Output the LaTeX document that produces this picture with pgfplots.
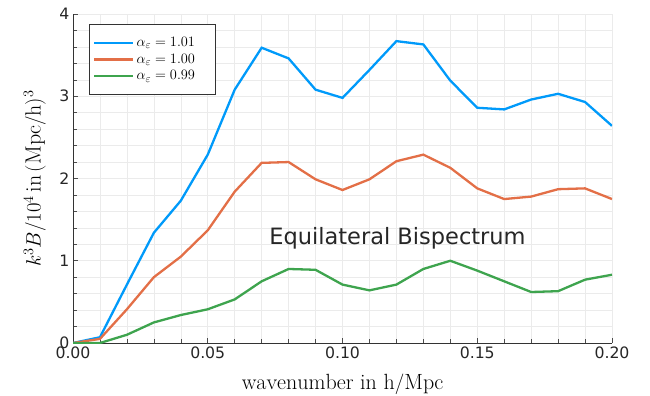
\documentclass[border=0pt]{standalone}
\usepackage{fontspec}
\usepackage{pgfplots}
\pgfplotsset{compat=1.18}
\newfontfamily\dejavu{DejaVu Sans}
\definecolor{c1}{HTML}{009AFA}
\definecolor{c2}{HTML}{E36F47}
\definecolor{c3}{HTML}{3EA44E}
\begin{document}
\begin{tikzpicture}
\begin{axis}[
  scale only axis, width=539bp, height=329bp,
  xmin=0, xmax=0.2, ymin=0, ymax=4,
  axis lines*=left,
  axis line style={black!80, line width=0.8bp},
  tick align=inside,
  major tick length=5bp, minor tick length=4bp,
  tick style={black!70, line width=0.6bp},
  xtick={0,0.05,0.1,0.15,0.2}, minor x tick num=4,
  ytick={0,1,2,3,4}, minor y tick num=4,
  grid=both,
  major grid style={black!8, line width=0.6bp},
  minor grid style={black!8, line width=0.6bp},
  /pgf/number format/assume math mode=true,
  tick label style={font=\dejavu\fontsize{15.7bp}{18bp}\selectfont, black!85},
  x tick label style={/pgf/number format/fixed, /pgf/number format/fixed zerofill, /pgf/number format/precision=2},
  y tick label style={/pgf/number format/fixed, /pgf/number format/precision=0},
  xlabel={$\mathrm{wavenumber\ in\ h/Mpc}$},
  ylabel={$k^3B/10^4\,\mathrm{in}\,(\mathrm{Mpc/h})^3$},
  label style={font=\fontsize{22bp}{26bp}\selectfont},
  x label style={at={(axis description cs:0.5,0)}, anchor=center, yshift=-41.5bp},
  y label style={at={(axis description cs:-0.071,0.5)}, anchor=center},
  legend style={at={(axis description cs:0,1)}, anchor=north west, xshift=16bp, yshift=-10bp,
    draw=black!80, line width=0.6bp, font=\fontsize{15.5bp}{17bp}\selectfont,
    cells={anchor=west}, row sep=2bp, inner xsep=4bp, inner ysep=11bp},
  legend image code/.code={\draw[#1] (0bp,0bp) -- (39bp,0bp);},
  every axis plot/.append style={line width=2.3bp},
]
\addplot[c1] coordinates {
(0,0) (0.01,0.07) (0.02,0.71) (0.03,1.34) (0.04,1.73) (0.05,2.29) (0.06,3.08) (0.07,3.59) (0.08,3.46) (0.09,3.08) (0.10,2.98)
(0.11,3.32) (0.12,3.67) (0.13,3.63) (0.14,3.19) (0.15,2.86) (0.16,2.84) (0.17,2.96) (0.18,3.03) (0.19,2.93) (0.20,2.64)};
\addlegendentry{$\alpha_\varepsilon = 1.01$\hspace*{14bp}}
\addplot[c2] coordinates {
(0,0) (0.01,0.05) (0.02,0.41) (0.03,0.80) (0.04,1.05) (0.05,1.37) (0.06,1.84) (0.07,2.19) (0.08,2.20) (0.09,1.99) (0.10,1.86)
(0.11,1.99) (0.12,2.21) (0.13,2.29) (0.14,2.13) (0.15,1.88) (0.16,1.75) (0.17,1.78) (0.18,1.87) (0.19,1.88) (0.20,1.75)};
\addlegendentry{$\alpha_\varepsilon = 1.00$\hspace*{14bp}}
\addplot[c3] coordinates {
(0,0) (0.01,0.0) (0.02,0.10) (0.03,0.25) (0.04,0.34) (0.05,0.41) (0.06,0.53) (0.07,0.75) (0.08,0.90) (0.09,0.89) (0.10,0.71)
(0.11,0.64) (0.12,0.71) (0.13,0.90) (0.14,1.00) (0.15,0.88) (0.16,0.75) (0.17,0.62) (0.18,0.63) (0.19,0.77) (0.20,0.83)};
\addlegendentry{$\alpha_\varepsilon = 0.99$\hspace*{14bp}}
\node[font=\dejavu\fontsize{22.5bp}{26bp}\selectfont, anchor=base, black!85] at (axis cs:0.1204,1.20) {Equilateral Bispectrum};
\end{axis}
\pgfresetboundingbox
\path[use as bounding box] (current axis.south west) ++(-73bp,-53bp) rectangle ++(650bp,396bp);
\end{tikzpicture}
\end{document}
